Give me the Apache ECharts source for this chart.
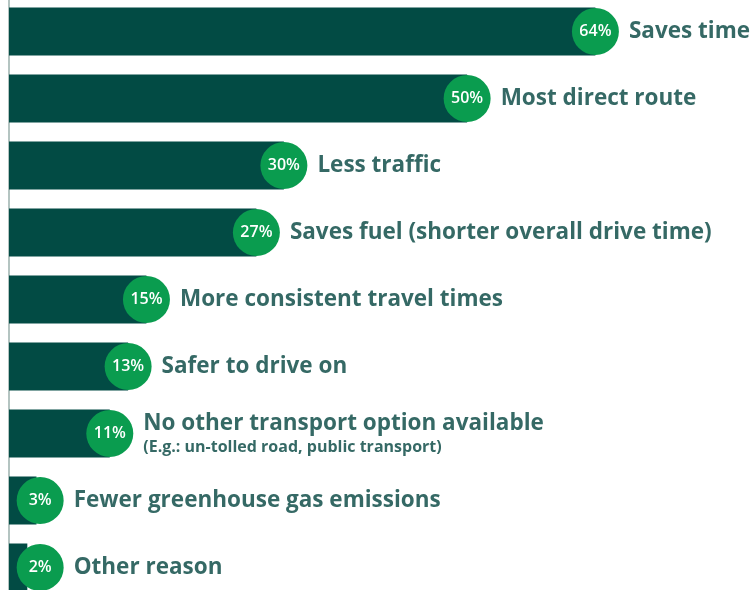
<!DOCTYPE html>
<html>
<head>
<meta charset="utf-8">
<script src="https://cdn.jsdelivr.net/npm/echarts@6/dist/echarts.min.js"></script>
<style>
html,body{margin:0;padding:0;background:#fff;overflow:hidden;width:751px;height:590px;}
#chart{position:absolute;left:0;top:-2px;width:751px;height:603px;}
</style>
</head>
<body>
<div id="chart"></div>
<script>
const categories = [
  'Saves time',
  'Most direct route',
  'Less traffic',
  'Saves fuel (shorter overall drive time)',
  'More consistent travel times',
  'Safer to drive on',
  'No other transport option available',
  'Fewer greenhouse gas emissions',
  'Other reason'
];
const notes = ['', '', '', '', '', '', '(E.g.: un-tolled road, public transport)', '', ''];
const values = [64, 50, 30, 27, 15, 13, 11, 3, 2];

const BAR = '#024b44';
const CIRCLE = '#0a9c4f';
const TEXT = '#03443e';
const FONT = '"Open Sans", "Noto Sans", sans-serif';
const MIN_CIRCLE = 3.4; // keeps small-value circles clear of the axis

const chart = echarts.init(document.getElementById('chart'), null, {renderer: 'canvas'});
const circleData = values.map((v, i) => [Math.max(v, MIN_CIRCLE), i]);

chart.setOption({
  animation: false,
  grid: {left: 9, right: 9, top: 0, bottom: 0, containLabel: false, outerBoundsMode: 'none'},
  xAxis: {
    type: 'value', min: 0, max: 80,
    show: false, splitLine: {show: false}
  },
  yAxis: {
    type: 'category', data: categories, inverse: true,
    axisLine: {show: true, lineStyle: {color: '#9bb1ad', width: 1.5}},
    axisTick: {show: false}, axisLabel: {show: false}, splitLine: {show: false}
  },
  series: [
    {
      type: 'bar', data: values, barWidth: 48,
      itemStyle: {color: BAR}, z: 1
    },
    {
      type: 'scatter', data: circleData, symbol: 'circle', symbolSize: 47,
      itemStyle: {color: CIRCLE, opacity: 1}, z: 3,
      label: {
        show: true, position: 'inside',
        formatter: p => values[p.dataIndex] + '%',
        color: '#ffffff', fontFamily: FONT, fontWeight: 600, fontSize: 16
      }
    },
    {
      type: 'scatter', data: circleData, symbol: 'circle', symbolSize: 47,
      itemStyle: {color: 'rgba(0,0,0,0)'}, z: 4, silent: true,
      label: {
        show: true, position: 'right', distance: 10,
        formatter: p => {
          const n = notes[p.dataIndex];
          return n ? '{m|' + categories[p.dataIndex] + '}\n{s|' + n + '}' : '{m|' + categories[p.dataIndex] + '}';
        },
        rich: {
          m: {color: TEXT, fontFamily: FONT, fontWeight: 'bold', fontSize: 22.5, lineHeight: 27},
          s: {color: TEXT, fontFamily: FONT, fontWeight: 'bold', fontSize: 16, lineHeight: 20}
        }
      }
    }
  ]
});
</script>
</body>
</html>
